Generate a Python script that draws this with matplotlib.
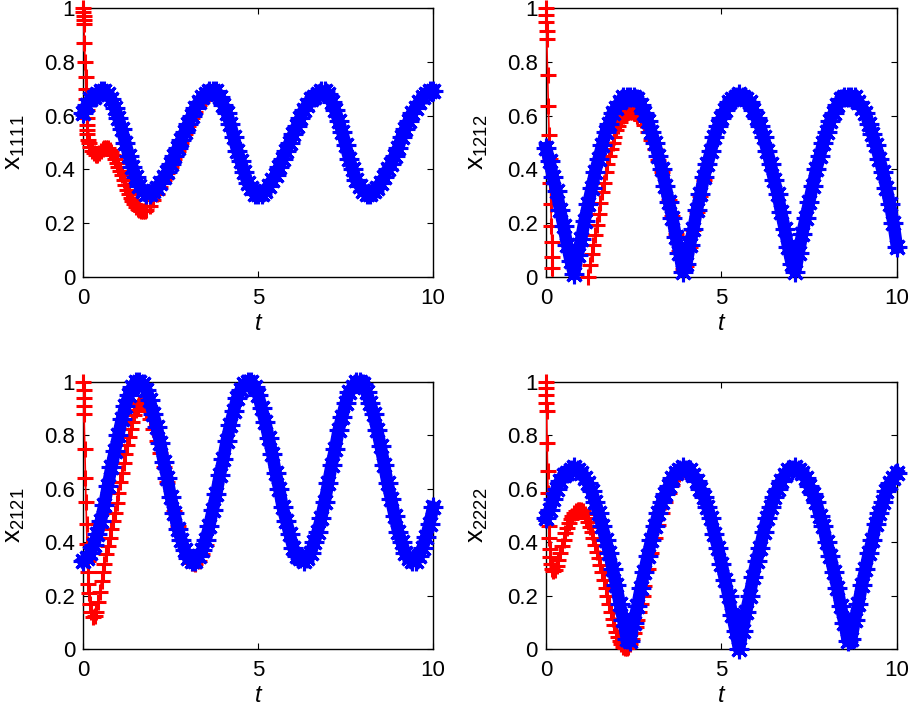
"""
Four-panel time series: transient (red '+') vs. periodic solution (blue '*').
MATLAB-like styling: boxed axes, inward ticks, markers not clipped.
"""

import numpy as np
import matplotlib
matplotlib.use('Agg')
import matplotlib.pyplot as plt

plt.rcParams.update({
    'font.family': ['Liberation Sans', 'DejaVu Sans'],
    'mathtext.default': 'regular',
    'font.size': 16,
})

# common time grid of the blue curves
t = np.round(np.arange(101) * 0.1, 1)

# ---- blue curves, one value per 0.1 in t ----
blue_1111 = [0.61, 0.64, 0.66, 0.67, 0.68, 0.69,
             0.69, 0.68, 0.66, 0.63, 0.59, 0.55, 0.50, 0.45, 0.41, 0.37, 0.34, 0.32, 0.31,
             0.31, 0.32, 0.33, 0.35, 0.37, 0.39, 0.42, 0.45, 0.48, 0.51, 0.54, 0.57, 0.60,
             0.63, 0.65, 0.67, 0.68, 0.69, 0.69,
             0.69, 0.67, 0.64, 0.61, 0.57, 0.52, 0.47, 0.43, 0.39, 0.35, 0.33, 0.31, 0.31,
             0.31, 0.32, 0.34, 0.36, 0.38, 0.41, 0.44, 0.47, 0.50, 0.53, 0.56, 0.59, 0.62,
             0.64, 0.66, 0.67, 0.68, 0.69,
             0.69, 0.68, 0.65, 0.62, 0.58, 0.54, 0.49, 0.44, 0.40, 0.36, 0.34, 0.32, 0.31,
             0.31, 0.32, 0.33, 0.35, 0.37, 0.40, 0.42, 0.45, 0.48, 0.52, 0.55, 0.58, 0.61,
             0.63, 0.65, 0.67, 0.68, 0.69, 0.69]

blue_1212 = [0.48, 0.43, 0.37, 0.32, 0.25, 0.19, 0.12, 0.06, 0.01, 0.08, 0.14,
             0.21, 0.27, 0.33, 0.39, 0.44, 0.49, 0.54, 0.57, 0.61, 0.63,
             0.65, 0.67, 0.67, 0.67, 0.67, 0.66, 0.64, 0.61, 0.58, 0.54,
             0.50, 0.45, 0.40, 0.34, 0.28, 0.22, 0.15, 0.09, 0.02, 0.05,
             0.12, 0.18, 0.25, 0.31, 0.37, 0.42, 0.47, 0.52, 0.56, 0.59,
             0.62, 0.65, 0.66, 0.67, 0.68, 0.67, 0.66, 0.65, 0.62, 0.59,
             0.56, 0.52, 0.47, 0.42, 0.36, 0.31, 0.24, 0.18, 0.11, 0.05,
             0.02, 0.09, 0.16, 0.22, 0.28, 0.34, 0.40, 0.45, 0.50, 0.54,
             0.58, 0.61, 0.64, 0.66, 0.67, 0.67, 0.67, 0.67, 0.65, 0.63,
             0.61, 0.57, 0.53, 0.49, 0.44, 0.39, 0.33, 0.27, 0.20, 0.11]

blue_2121 = [0.33, 0.34, 0.36, 0.39, 0.43, 0.48, 0.54, 0.61, 0.68, 0.74, 0.80,
             0.86, 0.91, 0.95, 0.98, 1.00, 1.00, 0.99, 0.97, 0.93, 0.88,
             0.83, 0.77, 0.70, 0.64, 0.57, 0.51, 0.45, 0.41, 0.37, 0.34,
             0.33, 0.33, 0.35, 0.37, 0.41, 0.46, 0.52, 0.58, 0.65, 0.71,
             0.78, 0.84, 0.89, 0.94, 0.97, 0.99, 1.00, 1.00, 0.98, 0.95,
             0.90, 0.85, 0.79, 0.73, 0.66, 0.60, 0.53, 0.48, 0.43, 0.38,
             0.35, 0.34, 0.33, 0.34, 0.36, 0.40, 0.44, 0.49, 0.55, 0.62,
             0.69, 0.75, 0.82, 0.87, 0.92, 0.96, 0.98, 1.00, 1.00, 0.99,
             0.96, 0.92, 0.88, 0.82, 0.76, 0.69, 0.62, 0.56, 0.50, 0.44,
             0.40, 0.36, 0.34, 0.33, 0.33, 0.35, 0.38, 0.42, 0.47, 0.53]

blue_2222 = [0.49, 0.52, 0.56, 0.60, 0.63, 0.65, 0.66, 0.67, 0.68, 0.67, 0.66,
             0.64, 0.62, 0.59, 0.55, 0.51, 0.46, 0.41, 0.36, 0.30, 0.24,
             0.17, 0.11, 0.04, 0.03, 0.10, 0.16, 0.23, 0.29, 0.35, 0.41,
             0.46, 0.51, 0.55, 0.58, 0.61, 0.64, 0.66, 0.67, 0.68, 0.67,
             0.67, 0.65, 0.63, 0.60, 0.57, 0.53, 0.49, 0.43, 0.38, 0.32,
             0.26, 0.20, 0.13, 0.07, 0.00, 0.07, 0.14, 0.20, 0.27, 0.33,
             0.38, 0.44, 0.49, 0.53, 0.57, 0.60, 0.63, 0.65, 0.67, 0.67,
             0.68, 0.67, 0.66, 0.64, 0.61, 0.58, 0.55, 0.50, 0.46, 0.40,
             0.35, 0.29, 0.23, 0.16, 0.10, 0.03, 0.04, 0.11, 0.17, 0.24,
             0.30, 0.36, 0.41, 0.47, 0.51, 0.55, 0.59, 0.62, 0.64, 0.66]

# ---- red curves: transient part (finer steps near t=0) ----
red_t_1111 = [0, 0.004, 0.007, 0.011, 0.015, 0.032, 0.049, 0.062, 0.073, 0.083, 0.093, 0.1,
              0.106, 0.111, 0.118, 0.13, 0.15, 0.2, 0.25, 0.3, 0.35, 0.4, 0.45, 0.5, 0.55,
              0.6, 0.65, 0.7, 0.75, 0.8, 0.85, 0.9, 0.95, 1.0, 1.05, 1.1, 1.15, 1.2, 1.25,
              1.3, 1.35, 1.4, 1.45, 1.5, 1.55, 1.6, 1.65, 1.7, 1.75, 1.8, 1.9, 2.0, 2.1, 2.2,
              2.3, 2.4, 2.5, 2.6, 2.7, 2.8, 2.9, 3.0, 3.1, 3.2, 3.3, 3.4, 3.5, 3.6, 3.7, 3.8]
red_y_1111 = [1.0, 0.985, 0.97, 0.955, 0.94, 0.87, 0.80, 0.745, 0.70, 0.66, 0.62, 0.59,
              0.565, 0.545, 0.53, 0.51, 0.50, 0.485, 0.47, 0.46, 0.455, 0.455, 0.46, 0.47,
              0.475, 0.48, 0.48, 0.478, 0.472, 0.463, 0.452, 0.44, 0.425, 0.41, 0.395, 0.378,
              0.36, 0.342, 0.325, 0.31, 0.295, 0.282, 0.27, 0.26, 0.253, 0.248, 0.245, 0.245,
              0.247, 0.25, 0.265, 0.285, 0.31, 0.335, 0.36, 0.385, 0.41, 0.44, 0.47, 0.50,
              0.53, 0.56, 0.59, 0.615, 0.64, 0.66, 0.673, 0.682, 0.685, 0.68]

red_t_1212 = [0, 0.004, 0.009, 0.015, 0.021, 0.045, 0.068, 0.09, 0.107, 0.124, 0.14, 0.155,
              0.166, 0.176, 0.183, 0.2, 0.3, 0.4, 0.5, 0.6, 0.7, 0.8, 0.9, 1.0, 1.1, 1.15,
              1.2, 1.25, 1.3, 1.35, 1.4, 1.45, 1.5, 1.55, 1.6, 1.65, 1.7, 1.75, 1.8, 1.85,
              1.9, 1.95, 2.0, 2.05, 2.1, 2.15, 2.2, 2.25, 2.3, 2.35, 2.4, 2.45, 2.5, 2.6,
              2.7, 2.8, 2.9, 3.0, 3.1, 3.2, 3.3, 3.4, 3.5, 3.6, 3.7, 3.8, 3.9, 4.0, 4.1,
              4.2, 4.3, 4.4, 4.5]
red_y_1212 = [1.0, 0.975, 0.947, 0.913, 0.884, 0.75, 0.634, 0.528, 0.44, 0.35, 0.27, 0.19,
              0.13, 0.075, 0.035, -0.03, -0.2, -0.31, -0.37, -0.39, -0.37, -0.32, -0.25,
              -0.17, -0.08, -0.04, 0.0, 0.045, 0.085, 0.12, 0.155, 0.195, 0.235, 0.275,
              0.315, 0.35, 0.39, 0.42, 0.45, 0.475, 0.5, 0.52, 0.545, 0.56, 0.575, 0.588,
              0.598, 0.606, 0.612, 0.615, 0.615, 0.613, 0.61, 0.60, 0.585, 0.565, 0.54,
              0.51, 0.475, 0.435, 0.39, 0.34, 0.285, 0.225, 0.16, 0.095, 0.03, 0.04, 0.11,
              0.175, 0.24, 0.30, 0.36]

red_t_2121 = [0, 0.005, 0.01, 0.015, 0.02, 0.04, 0.06, 0.075, 0.09, 0.105, 0.12, 0.13, 0.145,
              0.16, 0.185, 0.22, 0.27, 0.32, 0.37, 0.42, 0.47, 0.52, 0.56, 0.6, 0.65, 0.7,
              0.75, 0.8, 0.85, 0.9, 0.95, 1.0, 1.05, 1.1, 1.15, 1.2, 1.25, 1.3, 1.35, 1.4,
              1.45, 1.5, 1.55, 1.6, 1.65, 1.7, 1.75, 1.8, 1.9, 2.0, 2.1, 2.2, 2.3, 2.4, 2.5,
              2.6, 2.7, 2.8, 2.9, 3.0, 3.1, 3.2, 3.3, 3.4, 3.5]
red_y_2121 = [1.0, 0.97, 0.94, 0.91, 0.88, 0.75, 0.64, 0.55, 0.47, 0.395, 0.33, 0.29, 0.245,
              0.21, 0.17, 0.14, 0.12, 0.125, 0.14, 0.175, 0.215, 0.255, 0.29, 0.32, 0.355,
              0.385, 0.415, 0.45, 0.48, 0.51, 0.545, 0.585, 0.625, 0.66, 0.695, 0.73, 0.765,
              0.795, 0.825, 0.85, 0.875, 0.895, 0.91, 0.92, 0.92, 0.915, 0.905, 0.89, 0.86,
              0.825, 0.78, 0.735, 0.68, 0.625, 0.57, 0.515, 0.46, 0.41, 0.37, 0.34, 0.322,
              0.318, 0.33, 0.355, 0.39]

red_t_2222 = [0, 0.004, 0.008, 0.012, 0.016, 0.03, 0.045, 0.058, 0.07, 0.082, 0.095, 0.11,
              0.125, 0.145, 0.17, 0.21, 0.25, 0.3, 0.35, 0.4, 0.45, 0.5, 0.55, 0.6, 0.65,
              0.7, 0.75, 0.8, 0.85, 0.9, 0.95, 1.0, 1.05, 1.1, 1.15, 1.2, 1.25, 1.3, 1.35,
              1.4, 1.45, 1.5, 1.55, 1.6, 1.65, 1.7, 1.75, 1.8, 1.85, 1.9, 1.95, 2.0, 2.05,
              2.1, 2.15, 2.2, 2.25, 2.3, 2.35, 2.4, 2.45, 2.5, 2.55, 2.6, 2.65, 2.7, 2.75,
              2.8, 2.9, 3.0, 3.1, 3.2, 3.3, 3.4, 3.5, 3.6, 3.7, 3.8]
red_y_2222 = [1.0, 0.975, 0.95, 0.92, 0.89, 0.77, 0.665, 0.585, 0.52, 0.46, 0.415, 0.375,
              0.345, 0.32, 0.30, 0.293, 0.297, 0.31, 0.335, 0.36, 0.385, 0.41, 0.435, 0.455,
              0.472, 0.487, 0.5, 0.508, 0.515, 0.519, 0.52, 0.519, 0.515, 0.505, 0.492,
              0.475, 0.457, 0.437, 0.415, 0.39, 0.365, 0.34, 0.315, 0.29, 0.26, 0.23, 0.2,
              0.17, 0.14, 0.115, 0.09, 0.065, 0.045, 0.03, 0.018, 0.01, 0.006, 0.005, 0.01,
              0.02, 0.038, 0.06, 0.085, 0.11, 0.14, 0.17, 0.2, 0.235, 0.30, 0.36, 0.415,
              0.465, 0.51, 0.55, 0.585, 0.615, 0.64, 0.655]

# after the transient the red curve lies on the blue one
panels = [
    ('1111', blue_1111, red_t_1111, red_y_1111, 39),
    ('1212', blue_1212, red_t_1212, red_y_1212, 46),
    ('2121', blue_2121, red_t_2121, red_y_2121, 36),
    ('2222', blue_2222, red_t_2222, red_y_2222, 39),
]

# axes boxes in figure fractions [left, bottom, width, height]
positions = [
    [0.0916, 0.6104, 0.3843, 0.3783],
    [0.6000, 0.6104, 0.3857, 0.3783],
    [0.0916, 0.0868, 0.3843, 0.3763],
    [0.6000, 0.0868, 0.3857, 0.3763],
]

fig = plt.figure(figsize=(9.1, 7.11), dpi=100)

for (name, blue, red_t, red_y, k), pos in zip(panels, positions):
    ax = fig.add_axes(pos)

    rt = np.array(red_t + list(t[k:]))
    ry = np.array(red_y + list(blue[k:]))
    inside = (ry >= 0) & (ry <= 1)

    # red: thin line clipped by the box, markers only for points inside the limits
    ax.plot(rt, ry, '-', color='red', lw=1.2, zorder=2)
    ax.plot(rt[inside], ry[inside], ls='none', marker='+', color='red',
            ms=11.5, mew=2.2, clip_on=False, zorder=2)

    # blue: dense asterisks, a thick line fills the gaps between samples
    ax.plot(t, blue, '-', color='blue', lw=9, clip_on=False, zorder=3)
    ax.plot(t, blue, ls='none', marker=(8, 2, 0), color='blue',
            ms=14, mew=2.2, clip_on=False, zorder=3)

    ax.set_xlim(0, 10)
    ax.set_ylim(0, 1)
    ax.set_xticks([0, 5, 10])
    ax.set_xticklabels(['0', '5', '10'])
    ax.set_yticks([0, 0.2, 0.4, 0.6, 0.8, 1])
    ax.set_yticklabels(['0', '0.2', '0.4', '0.6', '0.8', '1'])
    ax.tick_params(direction='in', length=4, width=0.8, top=True, right=True,
                   labelsize=16)
    ax.tick_params(axis='x', pad=8)
    ax.tick_params(axis='y', pad=6)
    for spine in ax.spines.values():
        spine.set_linewidth(1.0)
        spine.set_zorder(1)

    ax.set_xlabel('t', style='italic', fontsize=17, labelpad=2)
    ax.set_ylabel('$x_{%s}$' % name, fontsize=19, labelpad=12)

fig.savefig('out.png', dpi=100)
plt.close(fig)
